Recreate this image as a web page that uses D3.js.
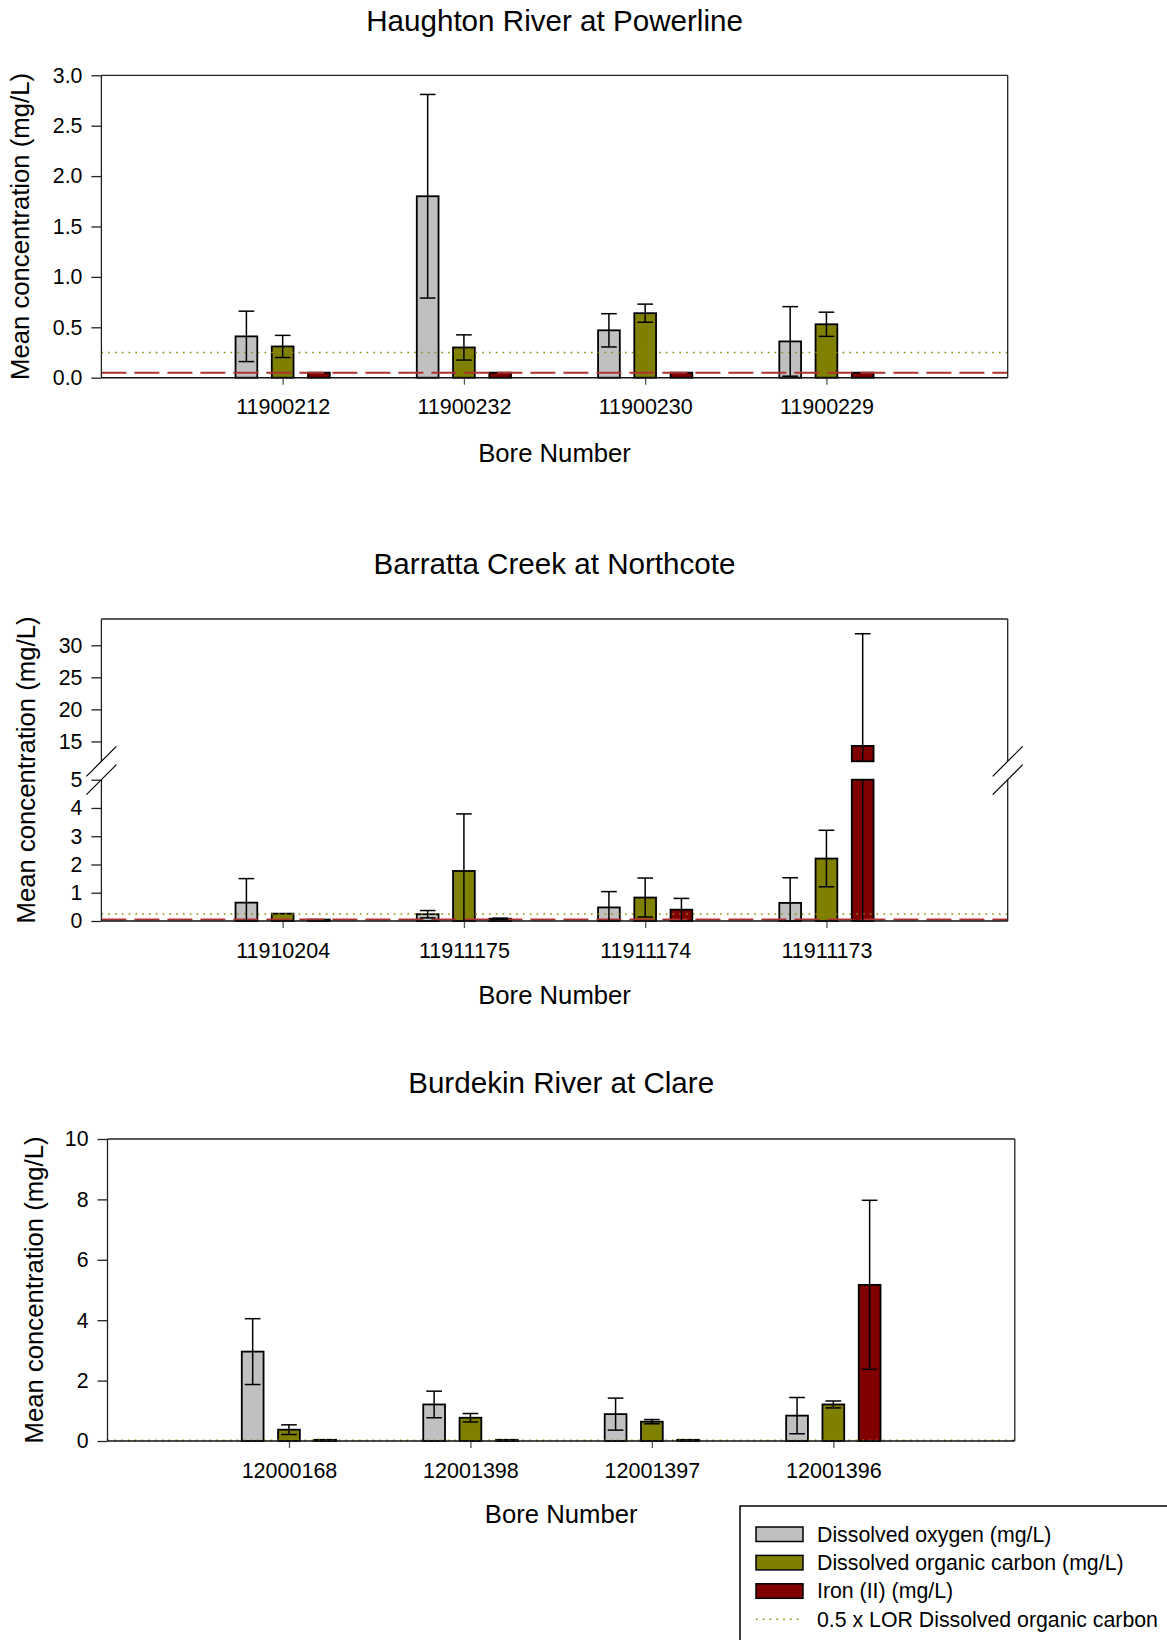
<!DOCTYPE html>
<html>
<head>
<meta charset="utf-8">
<script src="https://cdn.jsdelivr.net/npm/d3@7"></script>
<style>
  body { margin: 0; background: #fff; }
  svg { display: block; font-family: "Liberation Sans", Arial, sans-serif; }
</style>
</head>
<body>
<svg width="1167" height="1640"></svg>
<script>
// Series (legend order)
const seriesNames = ["Dissolved oxygen (mg/L)", "Dissolved organic carbon (mg/L)", "Iron (II) (mg/L)"];
const seriesColors = ["#c0c0c0", "#808000", "#800000"];
const lorLabel = "0.5 x LOR Dissolved organic carbon";

// Haughton River at Powerline
const haughtonBores = ["11900212", "11900232", "11900230", "11900229"];
const haughtonDO = [0.41, 1.80, 0.47, 0.36];
const haughtonDOErr = [0.25, 1.01, 0.165, 0.345];
const haughtonDOC = [0.31, 0.30, 0.64, 0.53];
const haughtonDOCErr = [0.11, 0.125, 0.09, 0.12];
const haughtonFe = [0.05, 0.05, 0.05, 0.05];
const haughtonFeErr = [0, 0, 0, 0];
const haughtonTicks = [0, 0.5, 1.0, 1.5, 2.0, 2.5, 3.0];

// Barratta Creek at Northcote (broken axis)
const barrattaBores = ["11910204", "11911175", "11911174", "11911173"];
const barrattaDO = [0.65, 0.24, 0.48, 0.64];
const barrattaDOErr = [0.85, 0.13, 0.56, 0.89];
const barrattaDOC = [0.26, 1.77, 0.83, 2.21];
const barrattaDOCErr = [0, 2.02, 0.69, 1.0];
const barrattaFe = [0.05, 0.08, 0.40, 14.3];
const barrattaFeErr = [0, 0.02, 0.40, 17.5];
const barrattaTicksLow = [0, 1, 2, 3, 4, 5];
const barrattaTicksHigh = [15, 20, 25, 30];

// Burdekin River at Clare
const burdekinBores = ["12000168", "12001398", "12001397", "12001396"];
const burdekinDO = [2.96, 1.21, 0.89, 0.84];
const burdekinDOErr = [1.09, 0.44, 0.53, 0.60];
const burdekinDOC = [0.375, 0.77, 0.64, 1.21];
const burdekinDOCErr = [0.16, 0.14, 0.07, 0.115];
const burdekinFe = [0.04, 0.04, 0.04, 5.17];
const burdekinFeErr = [0, 0, 0, 2.8];
const burdekinTicks = [0, 2, 4, 6, 8, 10];

// reference lines (mg/L)
const docHalfLor = [0.25, 0.25, 0.02];
const feLor = [0.05, 0.05, null];

const svg = d3.select("svg");

// panel layout
const panels = [
  {
    title: "Haughton River at Powerline", bores: haughtonBores,
    values: [haughtonDO, haughtonDOC, haughtonFe], errors: [haughtonDOErr, haughtonDOCErr, haughtonFeErr],
    left: 101.4, right: 1007.7, top: 75.3, bottom: 377.7,
    segments: [{ domain: [0, 3], range: [377.7, 75.3], ticks: haughtonTicks }],
    fmt: d3.format(".1f"), titleY: 31, xTitleY: 462, yTitleX: 29, doc: docHalfLor[0], fe: feLor[0]
  },
  {
    title: "Barratta Creek at Northcote", bores: barrattaBores,
    values: [barrattaDO, barrattaDOC, barrattaFe], errors: [barrattaDOErr, barrattaDOCErr, barrattaFeErr],
    left: 101.4, right: 1007.7, top: 619, bottom: 921,
    segments: [
      { domain: [0, 5], range: [921, 779.7], ticks: barrattaTicksLow },
      { domain: [11.9, 34.1], range: [761.3, 619], ticks: barrattaTicksHigh }
    ],
    fmt: d3.format("d"), titleY: 574, xTitleY: 1004, yTitleX: 35, doc: docHalfLor[1], fe: feLor[1]
  },
  {
    title: "Burdekin River at Clare", bores: burdekinBores,
    values: [burdekinDO, burdekinDOC, burdekinFe], errors: [burdekinDOErr, burdekinDOCErr, burdekinFeErr],
    left: 107.5, right: 1014.8, top: 1139, bottom: 1441,
    segments: [{ domain: [0, 10], range: [1441, 1139], ticks: burdekinTicks }],
    fmt: d3.format("d"), titleY: 1093, xTitleY: 1523, yTitleX: 43, doc: docHalfLor[2], fe: feLor[2]
  }
];

panels.forEach(p => {
  const g = svg.append("g");
  const x = d3.scalePoint().domain(p.bores).range([p.left, p.right]).padding(1);
  const step = x.step();
  const barW = step * 0.12, barOff = step * 0.2;
  const segs = p.segments.map(s => Object.assign({}, s, {
    y: d3.scaleLinear().domain(s.domain).range(s.range)
  }));
  const y0 = segs[0].y;

  // bars, one piece per axis segment
  const bars = g.append("g");
  p.values.forEach((vals, k) => {
    vals.forEach((v, i) => {
      const cx = x(p.bores[i]) + (k - 1) * barOff;
      segs.forEach(s => {
        const lo = Math.max(0, s.domain[0]), hi = Math.min(v, s.domain[1]);
        if (hi <= lo) return;
        bars.append("rect")
          .attr("x", cx - barW / 2)
          .attr("y", s.y(hi))
          .attr("width", barW)
          .attr("height", s.y(lo) - s.y(hi))
          .attr("fill", seriesColors[k])
          .attr("stroke", "#000")
          .attr("stroke-width", 1.8);
      });
    });
  });

  // reference lines
  if (p.doc != null) {
    g.append("line")
      .attr("x1", p.left).attr("x2", p.right)
      .attr("y1", y0(p.doc)).attr("y2", y0(p.doc))
      .attr("stroke", "#8c8c00").attr("stroke-width", 1.6)
      .attr("stroke-dasharray", "1.6,5.2");
  }
  if (p.fe != null) {
    g.append("line")
      .attr("x1", p.left).attr("x2", p.right)
      .attr("y1", y0(p.fe)).attr("y2", y0(p.fe))
      .attr("stroke", "#ad3333").attr("stroke-width", 2)
      .attr("stroke-dasharray", "25,8");
  }

  // error bars
  const errs = g.append("g").attr("stroke", "#000").attr("stroke-width", 1.5);
  const capW = barW * 0.72;
  p.values.forEach((vals, k) => {
    vals.forEach((v, i) => {
      const e = p.errors[k][i];
      if (!e) return;
      const cx = x(p.bores[i]) + (k - 1) * barOff;
      const lowE = Math.max(0, v - e), highE = v + e;
      segs.forEach(s => {
        const a = Math.max(lowE, s.domain[0]), b = Math.min(highE, s.domain[1]);
        if (b > a) {
          errs.append("line").attr("x1", cx).attr("x2", cx)
            .attr("y1", s.y(a)).attr("y2", s.y(b));
        }
        [v + e, v - e].forEach(c => {
          if (c > 0 && c >= s.domain[0] && c <= s.domain[1]) {
            errs.append("line")
              .attr("x1", cx - capW / 2).attr("x2", cx + capW / 2)
              .attr("y1", s.y(c)).attr("y2", s.y(c));
          }
        });
      });
    });
  });

  // frame
  const frame = g.append("g").attr("stroke", "#222").attr("stroke-width", 1.3);
  frame.append("line").attr("x1", p.left).attr("x2", p.right).attr("y1", p.top).attr("y2", p.top);
  segs.forEach(s => {
    [p.left, p.right].forEach(xx => {
      frame.append("line").attr("x1", xx).attr("x2", xx)
        .attr("y1", s.range[0]).attr("y2", s.range[1]);
    });
  });

  // y axis
  segs.forEach(s => {
    const ax = g.append("g")
      .attr("transform", `translate(${p.left},0)`)
      .call(d3.axisLeft(s.y).tickValues(s.ticks).tickSize(10).tickPadding(9).tickFormat(p.fmt));
    ax.select(".domain").remove();
    ax.selectAll("line").attr("stroke", "#222").attr("stroke-width", 1.3);
    ax.selectAll("text").attr("font-size", 21.3).attr("fill", "#000");
  });

  // x axis
  const xa = g.append("g")
    .attr("transform", `translate(0,${p.bottom})`)
    .call(d3.axisBottom(x).tickSize(7).tickPadding(14.5));
  xa.select(".domain").remove();
  xa.selectAll("line").attr("stroke", "#555").attr("stroke-width", 1.3);
  xa.selectAll("text").attr("font-size", 21.5).attr("fill", "#000");
  g.append("line").attr("x1", p.left).attr("x2", p.right)
    .attr("y1", p.bottom).attr("y2", p.bottom)
    .attr("stroke", "#111").attr("stroke-width", 1.5);

  // axis breaks
  if (segs.length > 1) {
    const brk = g.append("g").attr("stroke", "#000").attr("stroke-width", 1.2);
    [p.left, p.right].forEach(xx => {
      [segs[0].range[1], segs[1].range[0]].forEach(yy => {
        brk.append("line")
          .attr("x1", xx - 15).attr("y1", yy + 15)
          .attr("x2", xx + 15).attr("y2", yy - 15);
      });
    });
  }

  // titles
  const mid = (p.left + p.right) / 2;
  g.append("text").attr("x", mid).attr("y", p.titleY)
    .attr("text-anchor", "middle").attr("font-size", 29.6).text(p.title);
  g.append("text").attr("x", mid).attr("y", p.xTitleY)
    .attr("text-anchor", "middle").attr("font-size", 25.7).text("Bore Number");
  g.append("text")
    .attr("transform", `translate(${p.yTitleX},${(p.top + p.bottom) / 2}) rotate(-90)`)
    .attr("text-anchor", "middle").attr("font-size", 25.7)
    .text("Mean concentration (mg/L)");
});

// legend
const legend = svg.append("g").attr("transform", "translate(740,1506)");
legend.append("rect")
  .attr("x", 0).attr("y", 0).attr("width", 460).attr("height", 160)
  .attr("fill", "#fff").attr("stroke", "#000").attr("stroke-width", 1.5);

const legendItems = legend.selectAll("g.item")
  .data(seriesNames.concat([lorLabel]))
  .join("g")
  .attr("class", "item")
  .attr("transform", (d, i) => `translate(16,${28 + i * 28.4})`);

legendItems.each(function (d, i) {
  const it = d3.select(this);
  if (i < 3) {
    it.append("rect")
      .attr("x", 0).attr("y", -7).attr("width", 47).attr("height", 14.5)
      .attr("fill", seriesColors[i]).attr("stroke", "#000").attr("stroke-width", 1.5);
  } else {
    it.append("line")
      .attr("x1", 0).attr("x2", 47).attr("y1", 0).attr("y2", 0)
      .attr("stroke", "#8c8c00").attr("stroke-width", 1.6)
      .attr("stroke-dasharray", "1.6,5.2");
  }
  it.append("text")
    .attr("x", 61).attr("y", 7.5)
    .attr("font-size", 21.3)
    .text(d);
});
</script>
</body>
</html>
